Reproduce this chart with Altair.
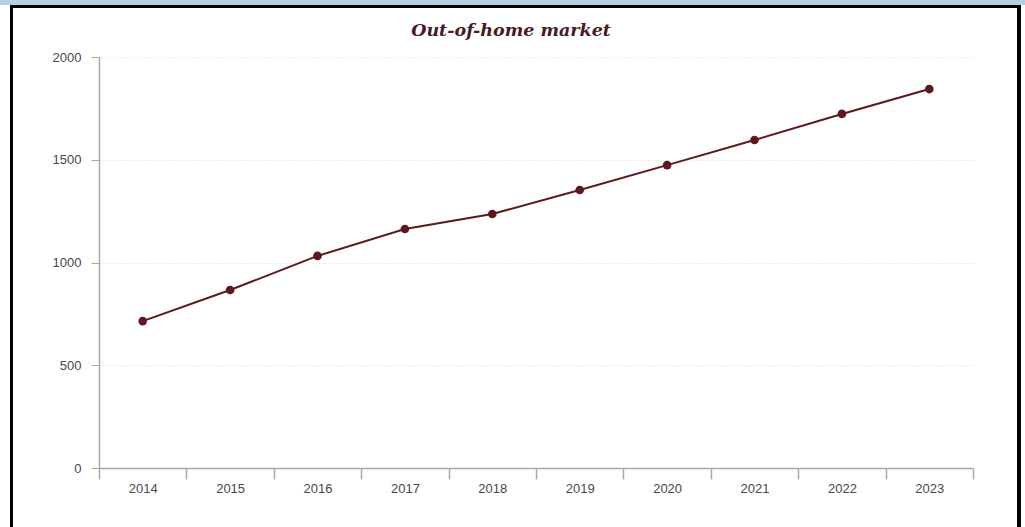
import altair as alt
import pandas as pd

years = ["2014", "2015", "2016", "2017", "2018", "2019", "2020", "2021", "2022", "2023"]
values = [715, 866, 1032, 1163, 1236, 1353, 1474, 1596, 1723, 1844]
title_text = "Out-of-home market"

df = pd.DataFrame({"year": years, "value": values})
one = pd.DataFrame({"k": [0]})

W, H = 874, 411
PL, PT = 99, 57
COL = "#5c1a1d"

x = alt.X("year:N", sort=years, title=None,
          scale=alt.Scale(paddingInner=0, paddingOuter=0),
          axis=alt.Axis(labelAngle=0, tickBand="extent", tickSize=11, labelPadding=3,
                        domainColor="#a8a8a8", tickColor="#a8a8a8", labelColor="#484848",
                        labelFont="Liberation Sans", labelFontSize=13, grid=False,
                        domainWidth=1.5, tickWidth=1.5))
y = alt.Y("value:Q", title=None,
          scale=alt.Scale(domain=[0, 2000], nice=False),
          axis=alt.Axis(values=[0, 500, 1000, 1500, 2000], format="d", tickSize=8, labelPadding=10,
                        domainColor="#a8a8a8", tickColor="#a8a8a8", labelColor="#484848",
                        labelFont="Liberation Sans", labelFontSize=13,
                        grid=True, gridColor="#e3e3e3", gridDash=[1, 2], gridWidth=1,
                        domainWidth=1.5, tickWidth=1))

line = alt.Chart(df).mark_line(color=COL, strokeWidth=2).encode(x=x, y=y)
pts = alt.Chart(df).mark_point(color=COL, filled=True, size=75, opacity=1).encode(x=x, y=y)

def box(x1, x2, y1, y2, color):
    return alt.Chart(one).mark_rect(color=color).encode(
        x=alt.value(x1 - PL), x2=alt.value(x2 - PL),
        y=alt.value(y1 - PT), y2=alt.value(y2 - PT))

frame = [
    box(0, 1025, 0, 5, "#b9cde5"),
    box(10, 1021, 5, 8, "#000000"),
    box(10, 13, 5, 527, "#000000"),
    box(1017, 1021, 5, 527, "#000000"),
]

title = alt.Chart(pd.DataFrame({"t": [title_text]})).mark_text(
    font="DejaVu Serif", fontSize=17.5, fontStyle="italic", fontWeight="bold",
    color="#4a1a22", align="center", baseline="alphabetic"
).encode(text="t:N", x=alt.value(511 - PL), y=alt.value(36 - PT))

chart = alt.layer(line, pts, *frame, title).properties(
    width=W, height=H,
    padding={"left": PL, "top": PT, "right": 1025 - PL - W, "bottom": 527 - PT - H},
    autosize=alt.AutoSizeParams(type="none"),
).configure(background="white").configure_view(strokeWidth=0, stroke="transparent")

chart.save("out.html", embed_options={"renderer": "svg", "actions": False})
